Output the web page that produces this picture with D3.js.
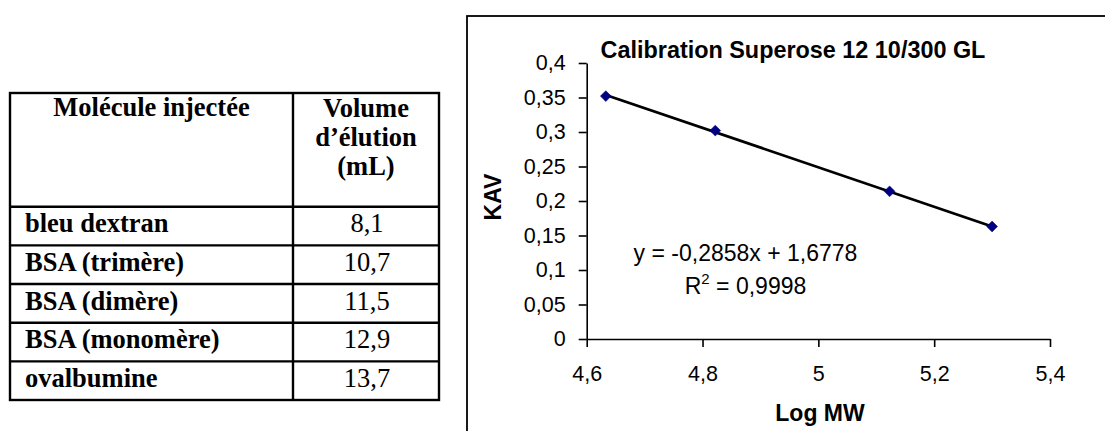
<!DOCTYPE html>
<html>
<head>
<meta charset="utf-8">
<script src="https://cdn.jsdelivr.net/npm/d3@7"></script>
<style>
  html, body { margin: 0; padding: 0; background: #fff; }
  svg { display: block; }
</style>
</head>
<body>
<svg id="c" width="1105" height="431"></svg>
<script>
// ---- Table data ----
const tableHeaders = ["Molécule injectée", "Volume\nd’élution\n(mL)"];
const molecules = ["bleu dextran", "BSA (trimère)", "BSA (dimère)", "BSA (monomère)", "ovalbumine"];
const elutionVolumes = ["8,1", "10,7", "11,5", "12,9", "13,7"];

// ---- Chart data ----
const chartTitle = "Calibration Superose 12 10/300 GL";
const logMW = [4.633, 4.822, 5.123, 5.300];
const kav = [0.352, 0.302, 0.214, 0.163];
const slope = -0.2858, intercept = 1.6778;
const equationText = "y = -0,2858x + 1,6778";
const r2Value = "0,9998";
const xTicks = [4.6, 4.8, 5.0, 5.2, 5.4];
const yTicks = [0, 0.05, 0.1, 0.15, 0.2, 0.25, 0.3, 0.35, 0.4];
const xLabel = "Log MW", yLabel = "KAV";

const svg = d3.select("#c");
const comma = v => String(+v.toFixed(2)).replace(".", ",");

// ================= TABLE =================
const serif = "'Liberation Serif', 'Times New Roman', serif";
const tLeft = 10, tMid = 293, tRight = 439, tTop = 93, headerBottom = 206.7, rowH = 38.66;
const tbl = svg.append("g");
const rowY = d3.scaleLinear().domain([0, molecules.length]).range([headerBottom, headerBottom + rowH * molecules.length]);
const fs = 26.5;

tbl.append("rect").attr("x", tLeft).attr("y", tTop)
  .attr("width", tRight - tLeft).attr("height", rowY(molecules.length) - tTop)
  .attr("fill", "none").attr("stroke", "#000").attr("stroke-width", 2.4);
tbl.append("line").attr("x1", tMid).attr("x2", tMid).attr("y1", tTop).attr("y2", rowY(molecules.length))
  .attr("stroke", "#000").attr("stroke-width", 2.4);
tbl.selectAll("line.h").data(d3.range(molecules.length)).join("line")
  .attr("x1", tLeft).attr("x2", tRight)
  .attr("y1", i => rowY(i)).attr("y2", i => rowY(i))
  .attr("stroke", "#000").attr("stroke-width", 2.4);

tbl.append("text").attr("x", (tLeft + tMid) / 2).attr("y", 116)
  .attr("text-anchor", "middle").attr("font-family", serif).attr("font-weight", "bold").attr("font-size", fs)
  .text(tableHeaders[0]);
tableHeaders[1].split("\n").forEach((line, i) => {
  tbl.append("text").attr("x", (tMid + tRight) / 2).attr("y", 117 + i * 29)
    .attr("text-anchor", "middle").attr("font-family", serif).attr("font-weight", "bold").attr("font-size", fs)
    .text(line);
});
tbl.selectAll("text.m").data(molecules).join("text")
  .attr("x", 25).attr("y", (d, i) => rowY(i) + 25.5)
  .attr("font-family", serif).attr("font-weight", "bold").attr("font-size", fs)
  .text(d => d);
tbl.selectAll("text.v").data(elutionVolumes).join("text")
  .attr("x", (tMid + tRight) / 2 + 1).attr("y", (d, i) => rowY(i) + 25.5)
  .attr("text-anchor", "middle").attr("font-family", serif).attr("font-size", fs)
  .text(d => d);

// ================= CHART =================
const sans = "'Liberation Sans', Arial, sans-serif";
const ch = svg.append("g");
ch.append("rect").attr("x", 467).attr("y", 16).attr("width", 700).attr("height", 500)
  .attr("fill", "#fff").attr("stroke", "#000").attr("stroke-width", 1.8);

const x = d3.scaleLinear().domain([4.6, 5.4]).range([586.7, 1050]);
const y = d3.scaleLinear().domain([0, 0.4]).range([339, 63]);

const xAxis = d3.axisBottom(x).tickValues(xTicks).tickSize(8).tickSizeOuter(0).tickPadding(19).tickFormat(comma);
const yAxis = d3.axisLeft(y).tickValues(yTicks).tickSize(8).tickSizeOuter(0).tickPadding(13).tickFormat(comma);

const gx = ch.append("g").attr("transform", `translate(0,${y(0)})`).call(xAxis);
const gy = ch.append("g").attr("transform", `translate(${x(4.6)},0)`).call(yAxis);
[gx, gy].forEach(g => {
  g.selectAll("path.domain").attr("stroke", "#000").attr("stroke-width", 1.6);
  g.selectAll(".tick line").attr("stroke", "#000").attr("stroke-width", 1.6);
  g.selectAll(".tick text").attr("font-family", sans).attr("font-size", 21.5).attr("fill", "#000");
});

ch.append("line")
  .attr("x1", x(d3.min(logMW))).attr("y1", y(slope * d3.min(logMW) + intercept))
  .attr("x2", x(d3.max(logMW))).attr("y2", y(slope * d3.max(logMW) + intercept))
  .attr("stroke", "#000").attr("stroke-width", 2.8);

const pts = logMW.map((v, i) => [v, kav[i]]);
ch.selectAll("path.pt").data(pts).join("path")
  .attr("d", d3.symbol().type(d3.symbolDiamond2).size(75))
  .attr("transform", d => `translate(${x(d[0])},${y(d[1])})`)
  .attr("fill", "#000080").attr("stroke", "#000080").attr("stroke-width", 0.5);

ch.append("text").attr("x", 793).attr("y", 58).attr("text-anchor", "middle")
  .attr("font-family", sans).attr("font-weight", "bold").attr("font-size", 23.4).text(chartTitle);
ch.append("text").attr("x", 820).attr("y", 421).attr("text-anchor", "middle")
  .attr("font-family", sans).attr("font-weight", "bold").attr("font-size", 23).text(xLabel);
ch.append("text").attr("transform", "translate(501,197) rotate(-90)").attr("text-anchor", "middle")
  .attr("font-family", sans).attr("font-weight", "bold").attr("font-size", 23).text(yLabel);

ch.append("text").attr("x", 745.5).attr("y", 261).attr("text-anchor", "middle")
  .attr("font-family", sans).attr("font-size", 23).text(equationText);
const r2 = ch.append("text").attr("x", 745.5).attr("y", 294).attr("text-anchor", "middle")
  .attr("font-family", sans).attr("font-size", 23);
r2.append("tspan").text("R");
r2.append("tspan").attr("dy", -10).attr("font-size", 15).text("2");
r2.append("tspan").attr("dy", 10).text(" = " + r2Value);
</script>
</body>
</html>
